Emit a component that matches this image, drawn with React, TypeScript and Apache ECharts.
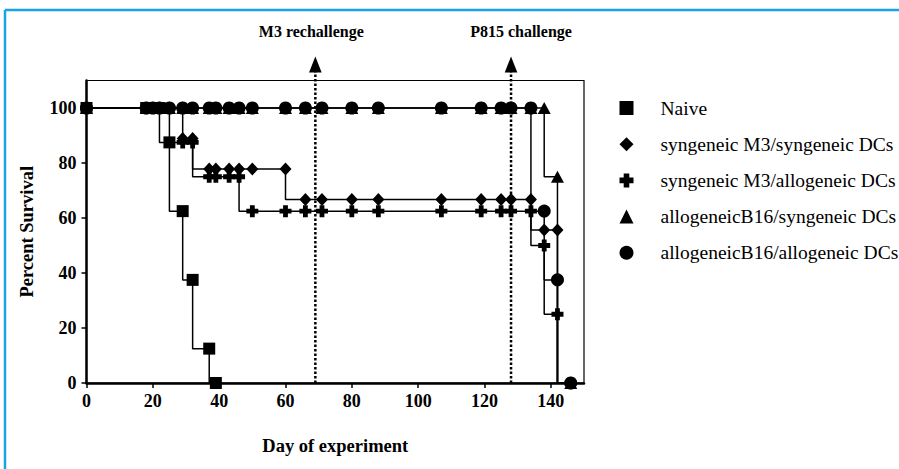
import React, { useEffect, useRef } from "react";
import * as echarts from "echarts";

// ---- Data ----
const seriesNames = [
  "Naive",
  "syngeneic M3/syngeneic DCs",
  "syngeneic M3/allogeneic DCs",
  "allogeneicB16/syngeneic DCs",
  "allogeneicB16/allogeneic DCs",
];

// Kaplan–Meier steps (day of drop, survival after drop)
const naiveCurveDays = [0, 22, 25, 29, 32, 37, 39];
const naiveCurveVals = [100, 87.5, 62.5, 37.5, 12.5, 0, 0];
const synSynCurveDays = [0, 29, 32, 60, 134, 142, 146];
const synSynCurveVals = [100, 88.9, 77.8, 66.7, 55.6, 0, 0];
const synAlloCurveDays = [0, 25, 32, 46, 134, 138, 142, 146];
const synAlloCurveVals = [100, 87.5, 75, 62.5, 50, 25, 0, 0];
const alloSynCurveDays = [0, 138, 142, 146];
const alloSynCurveVals = [100, 75, 0, 0];
const alloAlloCurveDays = [0, 134, 138, 142, 146];
const alloAlloCurveVals = [100, 62.5, 37.5, 0, 0];

// Symbols (day, percent)
const naiveMarkDays = [0, 18, 20, 22, 25, 29, 32, 37, 39];
const naiveMarkVals = [100, 100, 100, 100, 87.5, 62.5, 37.5, 12.5, 0];
const synSynMarkDays = [0, 18, 20, 22, 25, 29, 29, 32, 37, 39, 43, 46, 50, 60, 66, 71, 80, 88, 107, 119, 125, 128, 134, 138, 142, 146];
const synSynMarkVals = [100, 100, 100, 100, 100, 100, 88.9, 88.9, 77.8, 77.8, 77.8, 77.8, 77.8, 77.8, 66.7, 66.7, 66.7, 66.7, 66.7, 66.7, 66.7, 66.7, 66.7, 55.6, 55.6, 0];
const synAlloMarkDays = [0, 18, 20, 22, 25, 29, 32, 37, 39, 43, 46, 50, 60, 66, 71, 80, 88, 107, 119, 125, 128, 134, 138, 142, 146];
const synAlloMarkVals = [100, 100, 100, 100, 100, 87.5, 87.5, 75, 75, 75, 75, 62.5, 62.5, 62.5, 62.5, 62.5, 62.5, 62.5, 62.5, 62.5, 62.5, 62.5, 50, 25, 0];
const alloSynMarkDays = [0, 18, 20, 22, 25, 29, 32, 37, 39, 43, 46, 50, 60, 66, 71, 80, 88, 107, 119, 125, 128, 134, 138, 142, 146];
const alloSynMarkVals = [100, 100, 100, 100, 100, 100, 100, 100, 100, 100, 100, 100, 100, 100, 100, 100, 100, 100, 100, 100, 100, 100, 100, 75, 0];
const alloAlloMarkDays = [0, 18, 20, 22, 25, 29, 32, 37, 39, 43, 46, 50, 60, 66, 71, 80, 88, 107, 119, 125, 128, 134, 138, 142, 146];
const alloAlloMarkVals = [100, 100, 100, 100, 100, 100, 100, 100, 100, 100, 100, 100, 100, 100, 100, 100, 100, 100, 100, 100, 100, 100, 62.5, 37.5, 0];

const xTicks = [0, 20, 40, 60, 80, 100, 120, 140];
const yTicks = [0, 20, 40, 60, 80, 100];

const challengeDays = [69, 128];
const challengeLabels = ["M3 rechallenge", "P815 challenge"];

// ---- Styling ----
const PLUS = "path://M3,0H7V3H10V7H7V10H3V7H0V3H3Z";
const symbols = ["rect", "diamond", PLUS, "triangle", "circle"];
const symbolSizes: any[] = [12, [12, 13], 12, [13, 12], 13];
const FONT = "Liberation Serif";
const labelOffsets = [-4, 10];

const zip = (a: number[], b: number[]) => a.map((d, i) => [d, b[i]]);

export default function App() {
  const ref = useRef<HTMLDivElement>(null);
  useEffect(() => {
    if (!ref.current) return;
    const chart = echarts.init(ref.current, null, { renderer: "svg" });
    const curves = [
      zip(naiveCurveDays, naiveCurveVals),
      zip(synSynCurveDays, synSynCurveVals),
      zip(synAlloCurveDays, synAlloCurveVals),
      zip(alloSynCurveDays, alloSynCurveVals),
      zip(alloAlloCurveDays, alloAlloCurveVals),
    ];
    const marks = [
      zip(naiveMarkDays, naiveMarkVals),
      zip(synSynMarkDays, synSynMarkVals),
      zip(synAlloMarkDays, synAlloMarkVals),
      zip(alloSynMarkDays, alloSynMarkVals),
      zip(alloAlloMarkDays, alloAlloMarkVals),
    ];
    const lineSeries = seriesNames.map((name, i) => ({
      name,
      type: "line",
      step: "end",
      data: curves[i],
      showSymbol: false,
      symbol: "none",
      lineStyle: { color: "#000", width: 1.5 },
      itemStyle: { color: "#000" },
      z: 2,
    }));
    const scatterSeries = seriesNames.map((name, i) => ({
      name,
      type: "scatter",
      data: marks[i],
      symbol: symbols[i],
      symbolSize: symbolSizes[i],
      itemStyle: { color: "#000", opacity: 1 },
      z: 3 + i * 0.01,
    }));
    const annot = {
      type: "custom",
      data: challengeDays.map((d) => [d, 0]),
      encode: { x: 0, y: 1 },
      z: 5,
      silent: true,
      renderItem: (params: any, api: any) => {
        const x = api.value(0);
        const b = api.coord([x, 0]);
        const t = api.coord([x, 110]);
        const px = b[0];
        const idx = params.dataIndex;
        return {
          type: "group",
          children: [
            {
              type: "line",
              shape: { x1: px, y1: b[1], x2: px, y2: t[1] - 9 },
              style: { stroke: "#000", lineWidth: 2.5, lineDash: [2.5, 2] },
            },
            {
              type: "polygon",
              shape: { points: [[px - 6.3, t[1] - 8], [px + 6.3, t[1] - 8], [px, t[1] - 24]] },
              style: { fill: "#000" },
            },
            {
              type: "text",
              style: {
                text: challengeLabels[idx],
                x: px + labelOffsets[idx],
                y: t[1] - 49,
                align: "center",
                verticalAlign: "middle",
                font: `bold 16px "${FONT}"`,
                fill: "#000",
              },
            },
          ],
        };
      },
    };
    chart.setOption({
      animation: false,
      textStyle: { fontFamily: FONT, color: "#000" },
      grid: { left: 86.5, right: 315, top: 80.5, bottom: 86, show: true, borderColor: "#000", borderWidth: 1.2 },
      xAxis: {
        type: "value",
        min: 0,
        max: 150,
        name: "Day of experiment",
        nameLocation: "middle",
        nameGap: 53,
        nameTextStyle: { fontSize: 18.5, fontWeight: "bold", color: "#000", fontFamily: FONT },
        axisLine: { lineStyle: { color: "#000", width: 2.5 } },
        axisTick: { customValues: xTicks, length: 5, lineStyle: { color: "#000", width: 1.5 } },
        axisLabel: { customValues: xTicks, fontSize: 18, fontWeight: "bold", color: "#000", margin: 9, fontFamily: FONT },
        splitLine: { show: false },
      },
      yAxis: {
        type: "value",
        min: 0,
        max: 110,
        name: "Percent Survival",
        nameLocation: "middle",
        nameGap: 50,
        nameTextStyle: { fontSize: 18.5, fontWeight: "bold", color: "#000", fontFamily: FONT },
        axisLine: { lineStyle: { color: "#000", width: 2.5 } },
        axisTick: { customValues: yTicks, length: 5, lineStyle: { color: "#000", width: 1.5 } },
        axisLabel: { customValues: yTicks, fontSize: 18, fontWeight: "bold", color: "#000", margin: 10, fontFamily: FONT },
        splitLine: { show: false },
      },
      legend: {
        orient: "vertical",
        left: 614.5,
        top: 93,
        itemWidth: 14,
        itemHeight: 14,
        itemGap: 16.2,
        selectedMode: false,
        textStyle: { fontSize: 19.5, lineHeight: 19, color: "#000", fontFamily: FONT, padding: [0, 0, 0, 22] },
        data: seriesNames.map((name, i) => ({ name, icon: symbols[i] })),
      },
      graphic: [
        { type: "line", shape: { x1: 5, y1: 10, x2: 899, y2: 10 }, style: { stroke: "#1AA3E8", lineWidth: 2.5 } },
        { type: "line", shape: { x1: 5, y1: 10, x2: 5, y2: 469 }, style: { stroke: "#1AA3E8", lineWidth: 2.5 } },
      ],
      series: [...lineSeries, ...scatterSeries, annot],
    });
    return () => chart.dispose();
  }, []);
  return (
    <div
      ref={ref}
      style={{ position: "fixed", left: 0, top: 0, width: 899, height: 469, background: "#fff" }}
    />
  );
}
